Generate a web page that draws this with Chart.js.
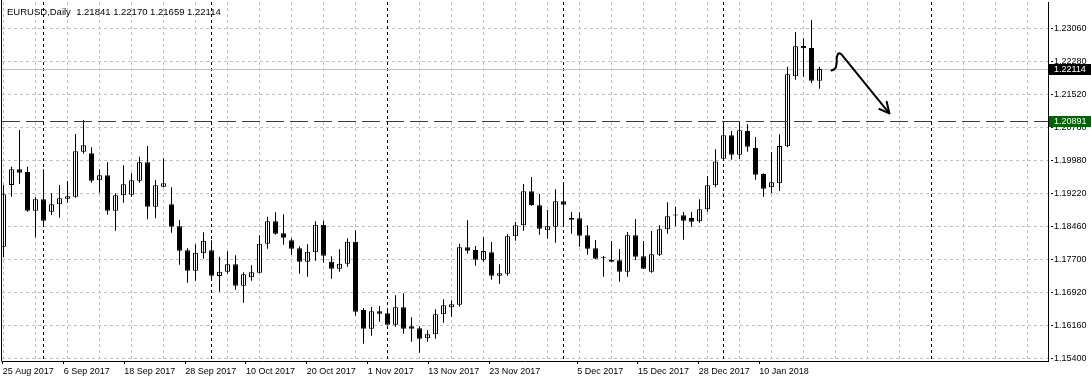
<!DOCTYPE html>
<html><head><meta charset="utf-8">
<script src="https://cdn.jsdelivr.net/npm/chart.js@4.4.1/dist/chart.umd.min.js"></script>
<style>html,body{margin:0;padding:0;background:#fff;overflow:hidden}canvas{display:block}</style>
</head><body>
<canvas id="c" width="1091" height="382"></canvas>
<script>
const symbol = 'EURUSD';
const timeframe = 'Daily';
const dates = ['2017-08-25','2017-08-28','2017-08-29','2017-08-30','2017-08-31','2017-09-01','2017-09-04','2017-09-05','2017-09-06','2017-09-07','2017-09-08','2017-09-11','2017-09-12','2017-09-13','2017-09-14','2017-09-15','2017-09-18','2017-09-19','2017-09-20','2017-09-21','2017-09-22','2017-09-25','2017-09-26','2017-09-27','2017-09-28','2017-09-29','2017-10-02','2017-10-03','2017-10-04','2017-10-05','2017-10-06','2017-10-09','2017-10-10','2017-10-11','2017-10-12','2017-10-13','2017-10-16','2017-10-17','2017-10-18','2017-10-19','2017-10-20','2017-10-23','2017-10-24','2017-10-25','2017-10-26','2017-10-27','2017-10-30','2017-10-31','2017-11-01','2017-11-02','2017-11-03','2017-11-06','2017-11-07','2017-11-08','2017-11-09','2017-11-10','2017-11-13','2017-11-14','2017-11-15','2017-11-16','2017-11-17','2017-11-20','2017-11-21','2017-11-22','2017-11-23','2017-11-24','2017-11-27','2017-11-28','2017-11-29','2017-11-30','2017-12-01','2017-12-04','2017-12-05','2017-12-06','2017-12-07','2017-12-08','2017-12-11','2017-12-12','2017-12-13','2017-12-14','2017-12-15','2017-12-18','2017-12-19','2017-12-20','2017-12-21','2017-12-22','2017-12-26','2017-12-27','2017-12-28','2017-12-29','2018-01-02','2018-01-03','2018-01-04','2018-01-05','2018-01-08','2018-01-09','2018-01-10','2018-01-11','2018-01-12','2018-01-15','2018-01-16','2018-01-17','2018-01-18'];
const opens = [1.17991,1.19423,1.19787,1.19725,1.18826,1.19091,1.18803,1.18975,1.19105,1.19151,
1.20196,1.20159,1.19532,1.19648,1.18826,1.19184,1.19198,1.19523,1.19950,1.18919,
1.19383,1.18975,1.18464,1.17907,1.17434,1.17837,1.17907,1.17311,1.17410,1.17582,
1.17085,1.17280,1.17387,1.18060,1.18580,1.18302,1.18139,1.17954,1.17642,1.17861,
1.18501,1.17642,1.17480,1.17596,1.18107,1.16521,1.16087,1.16491,1.16445,1.16180,
1.16584,1.16143,1.16097,1.15864,1.15957,1.16422,1.16584,1.16644,1.17977,1.17914,
1.17689,1.17861,1.17317,1.17364,1.18232,1.18487,1.19277,1.18952,1.18371,1.18455,
1.19044,1.18657,1.18650,1.18255,1.17954,1.17742,1.17682,1.17675,1.17410,1.18255,
1.17768,1.17410,1.17805,1.18395,1.18715,1.18720,1.18657,1.18580,1.18859,1.19416,
1.20033,1.20576,1.20126,1.20676,1.20289,1.19678,1.19369,1.19462,1.20321,1.21946,
1.22649,1.22603,1.21841];
const highs = [1.19423,1.19848,1.20699,1.19848,1.19137,1.19787,1.19230,1.19423,1.19516,1.20607,
1.20932,1.20298,1.19787,1.19950,1.19230,1.19880,1.19694,1.20080,1.20328,1.19539,
1.20043,1.19369,1.18610,1.17954,1.18046,1.18325,1.18139,1.17759,1.17884,1.17791,
1.17396,1.17559,1.18255,1.18687,1.18789,1.18743,1.18186,1.18000,1.18046,1.18580,
1.18594,1.17768,1.17930,1.18186,1.18371,1.16568,1.16591,1.16614,1.16537,1.16863,
1.16909,1.16352,1.16143,1.16050,1.16537,1.16770,1.16746,1.18060,1.18603,1.18007,
1.18209,1.18100,1.17582,1.18278,1.18564,1.19446,1.19609,1.19214,1.18843,1.19323,
1.19492,1.18796,1.18789,1.18487,1.18146,1.17775,1.18123,1.17937,1.18332,1.18634,
1.18123,1.18355,1.18487,1.19021,1.18912,1.18796,1.18796,1.19091,1.19632,1.20251,
1.20892,1.20676,1.20892,1.20832,1.20537,1.19694,1.20189,1.20600,1.22169,1.22974,
1.22828,1.23253,1.22170];
const lows = [1.17745,1.19151,1.19446,1.18803,1.18209,1.18455,1.18726,1.18664,1.19012,1.19128,
1.20149,1.19476,1.19244,1.18733,1.18362,1.19012,1.19151,1.19476,1.18627,1.18650,
1.19369,1.18316,1.17573,1.17155,1.17201,1.17712,1.17218,1.16946,1.17364,1.16993,
1.16691,1.17201,1.17373,1.17944,1.18269,1.18037,1.17798,1.17364,1.17294,1.17666,
1.17619,1.17248,1.17410,1.17526,1.16389,1.15739,1.15925,1.16250,1.16166,1.16134,
1.15971,1.15786,1.15530,1.15786,1.15855,1.16227,1.16366,1.16598,1.17828,1.17550,
1.17642,1.17225,1.17132,1.17317,1.18130,1.18362,1.18942,1.18269,1.18176,1.18083,
1.18471,1.18292,1.17991,1.17805,1.17698,1.17294,1.17628,1.17178,1.17294,1.17682,
1.17473,1.17387,1.17775,1.18292,1.18464,1.18153,1.18455,1.18548,1.18803,1.19369,
1.20003,1.20010,1.20026,1.20196,1.19546,1.19151,1.19237,1.19284,1.20300,1.21867,
1.21937,1.21783,1.21659];
const closes = [1.19207,1.19787,1.19708,1.18826,1.19091,1.18594,1.18975,1.19114,1.19161,1.20205,
1.20344,1.19523,1.19648,1.18826,1.19184,1.19439,1.19532,1.19950,1.18919,1.19416,
1.19462,1.18455,1.17898,1.17434,1.17851,1.18130,1.17317,1.17410,1.17582,1.17085,
1.17350,1.17396,1.18060,1.18580,1.18292,1.18199,1.17944,1.17642,1.17875,1.18501,
1.17782,1.17480,1.17596,1.18107,1.16482,1.16087,1.16491,1.16435,1.16180,1.16584,
1.16087,1.16087,1.15855,1.15957,1.16422,1.16630,1.16654,1.17977,1.17898,1.17689,
1.17891,1.17317,1.17373,1.18232,1.18487,1.19277,1.18959,1.18408,1.18464,1.19044,
1.18966,1.18617,1.18246,1.17944,1.17712,1.17733,1.17642,1.17410,1.18255,1.17759,
1.17480,1.17814,1.18395,1.18696,1.18722,1.18594,1.18571,1.18859,1.19416,1.19968,
1.20576,1.20126,1.20692,1.20312,1.19662,1.19337,1.19486,1.20328,1.21992,1.22642,
1.22596,1.21844,1.22114];

const dateTickLabels = ['25 Aug 2017','6 Sep 2017','18 Sep 2017','28 Sep 2017','10 Oct 2017','20 Oct 2017','1 Nov 2017','13 Nov 2017','23 Nov 2017','5 Dec 2017','15 Dec 2017','28 Dec 2017','10 Jan 2018'];
const dateTickAt = [-0.1,7.525,15.1,22.725,30.31,37.9,45.525,53.1,60.725,71.725,79.31,86.9,94.475];
const priceTickLabels = ['1.15400','1.16160','1.16920','1.17700','1.18460','1.19220','1.19980','1.20760','1.21520','1.22280','1.23060'];
const monthStarts = [5, 26, 48, 70, 90, 116];
const supportLevel = 1.20891;
const arrowPath = [[103.5,1.22081],[103.81,1.22104],[104.04,1.22150],[104.14,1.22255],[104.16,1.22382],[104.29,1.22464],[104.5,1.22482],[104.75,1.22452],[105.0,1.22394],[110.73,1.21087]];
const arrowHead = [[109.48,1.21187],[110.73,1.21087],[110.4,1.21356]];

const X_MIN = -0.1875, X_MAX = 130.5625;
const Y_MIN = 1.1533747, Y_MAX = 1.2367058;
const FONT = "'Liberation Sans', Arial, sans-serif";
const last = closes.length - 1;
const bidLevel = closes[last];

const wickData = dates.map((d, i) => ({x: i, y: [lows[i], highs[i]]}));
const bodyData = dates.map((d, i) => ({x: i, y: [opens[i], closes[i]]}));

const overlay = {
  id: 'overlay',
  beforeDatasetsDraw(chart) {
    const {ctx, chartArea: a, scales: {x, y}} = chart;
    ctx.save();
    ctx.lineWidth = 1;
    ctx.strokeStyle = '#000';
    ctx.setLineDash([3, 3]);
    monthStarts.forEach(i => {
      const px = Math.round(x.getPixelForValue(i) - 0.5) + 0.5;
      ctx.beginPath(); ctx.moveTo(px, a.top); ctx.lineTo(px, a.bottom); ctx.stroke();
    });
    ctx.setLineDash([]);
    ctx.strokeStyle = '#c0c0c0';
    const by = Math.round(y.getPixelForValue(bidLevel) - 0.5) + 0.5;
    ctx.beginPath(); ctx.moveTo(a.left, by); ctx.lineTo(a.right, by); ctx.stroke();
    ctx.restore();
  },
  afterDatasetsDraw(chart) {
    const {ctx, chartArea: a, scales: {y}} = chart;
    ctx.save();
    ctx.lineWidth = 1;
    ctx.strokeStyle = '#006400';
    ctx.setLineDash([18, 6]);
    const sy = Math.round(y.getPixelForValue(supportLevel) - 0.5) + 0.5;
    ctx.beginPath(); ctx.moveTo(a.left, sy); ctx.lineTo(a.right, sy); ctx.stroke();
    ctx.restore();
  },
  afterDraw(chart) {
    const {ctx, chartArea: a, scales: {x, y}} = chart;
    ctx.save();
    ctx.strokeStyle = '#000'; ctx.lineWidth = 1;
    ctx.beginPath(); ctx.moveTo(a.left - 0.5, 0); ctx.lineTo(a.left - 0.5, a.bottom + 0.5); ctx.stroke();
    ctx.fillStyle = '#000';
    ctx.font = '9.5px ' + FONT;
    ctx.textBaseline = 'alphabetic';
    ctx.textAlign = 'left';
    const hdr = symbol + ',' + timeframe + '  ' + [opens[last], highs[last], lows[last], closes[last]].map(v => v.toFixed(5)).join(' ');
    ctx.fillText(hdr, 7, 14.5);
    ctx.font = '9px ' + FONT;
    const box = (val, bg) => {
      const py = Math.round(y.getPixelForValue(val) - 0.5) + 0.5;
      ctx.fillStyle = bg;
      ctx.fillRect(a.right + 1, py - 5.5, 1091 - a.right - 1, 11);
      ctx.fillStyle = '#fff';
      ctx.textBaseline = 'middle';
      ctx.fillText(val.toFixed(5), a.right + 6, py + 0.5);
    };
    box(bidLevel, '#000');
    box(supportLevel, '#006400');
    ctx.strokeStyle = '#000';
    ctx.lineWidth = 2;
    ctx.lineJoin = 'round';
    ctx.lineCap = 'round';
    ctx.beginPath();
    arrowPath.forEach((p, k) => {
      const px = x.getPixelForValue(p[0]), py = y.getPixelForValue(p[1]);
      if (k === 0) ctx.moveTo(px, py); else ctx.lineTo(px, py);
    });
    ctx.stroke();
    ctx.beginPath();
    arrowHead.forEach((p, k) => {
      const px = x.getPixelForValue(p[0]), py = y.getPixelForValue(p[1]);
      if (k === 0) ctx.moveTo(px, py); else ctx.lineTo(px, py);
    });
    ctx.stroke();
    ctx.restore();
  }
};

new Chart(document.getElementById('c'), {
  type: 'bar',
  data: {
    datasets: [
      {data: wickData, backgroundColor: '#000', borderWidth: 0, barThickness: 1, grouped: false, inflateAmount: 0, xAxisID: 'x', yAxisID: 'y'},
      {data: bodyData,
       backgroundColor: c => (closes[c.dataIndex] >= opens[c.dataIndex] ? '#fff' : '#000'),
       borderColor: '#000', borderWidth: 1, borderSkipped: false, barThickness: 5, minBarLength: 1,
       grouped: false, inflateAmount: 0, xAxisID: 'x', yAxisID: 'y'}
    ]
  },
  plugins: [overlay],
  options: {
    responsive: false,
    animation: false,
    devicePixelRatio: 1,
    layout: {padding: {left: 2, top: 2, right: 0, bottom: 0}},
    plugins: {legend: {display: false}, tooltip: {enabled: false}},
    scales: {
      xg: {
        type: 'linear', position: 'bottom', min: X_MIN, max: X_MAX, bounds: 'data', offset: false,
        afterBuildTicks: s => { const t = []; for (let v = 0; v <= X_MAX; v += 4) t.push({value: v}); s.ticks = t; },
        afterFit: s => { s.height = 0; s.paddingLeft = 0; s.paddingRight = 0; },
        ticks: {display: false},
        grid: {color: '#c0c0c0', lineWidth: 1, drawTicks: false, offset: false},
        border: {display: false, dash: [3, 3]}
      },
      x: {
        type: 'linear', position: 'bottom', min: X_MIN, max: X_MAX, bounds: 'data', offset: false,
        afterBuildTicks: s => { s.ticks = dateTickAt.map(v => ({value: v})); },
        afterFit: s => { s.height = 21; s.paddingLeft = 0; s.paddingRight = 0; },
        ticks: {
          callback: (v, i) => dateTickLabels[i],
          autoSkip: false, maxRotation: 0, minRotation: 0, align: 'start', padding: 2,
          color: '#000', font: {family: FONT, size: 9}
        },
        grid: {drawOnChartArea: false, drawTicks: true, tickLength: 3, tickColor: '#000', tickWidth: 1, offset: false},
        border: {display: true, color: '#000', width: 1}
      },
      y: {
        type: 'linear', position: 'right', min: Y_MIN, max: Y_MAX, bounds: 'data',
        afterBuildTicks: s => {
          const a0 = parseFloat(priceTickLabels[0]);
          const a1 = parseFloat(priceTickLabels[priceTickLabels.length - 1]);
          const n = priceTickLabels.length - 1;
          s.ticks = priceTickLabels.map((l, k) => ({value: a0 + (a1 - a0) * k / n}));
        },
        afterFit: s => { s.width = 43; s.paddingTop = 0; s.paddingBottom = 0; },
        ticks: {
          callback: (v, i) => priceTickLabels[i],
          autoSkip: false, padding: 1, color: '#000', font: {family: FONT, size: 9}
        },
        grid: {color: '#c0c0c0', lineWidth: 1, drawTicks: true, tickLength: 5, tickColor: '#000', tickBorderDash: [0, 2, 2, 100]},
        border: {display: true, color: '#000', width: 1, dash: [3, 3]}
      }
    }
  }
});
</script>
</body></html>
